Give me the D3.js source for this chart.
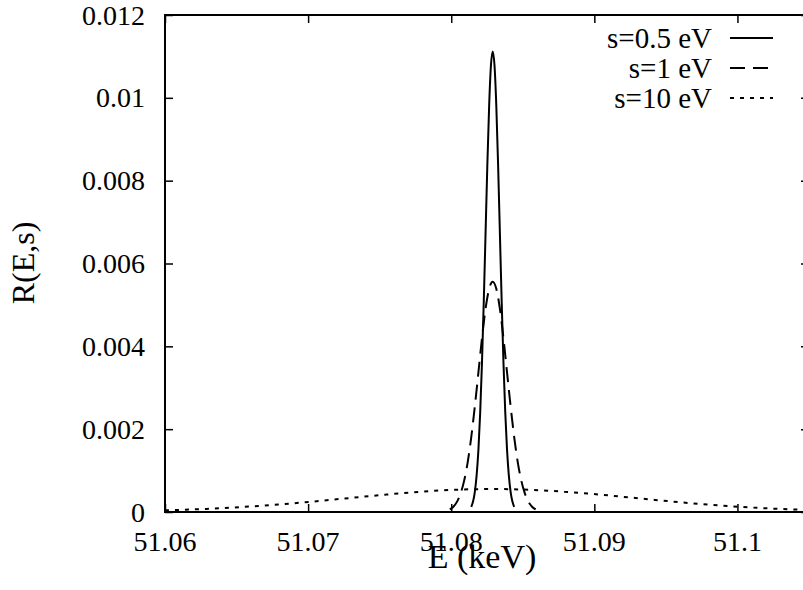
<!DOCTYPE html>
<html>
<head>
<meta charset="utf-8">
<script src="https://cdn.jsdelivr.net/npm/d3@7"></script>
<style>
  html, body { margin: 0; padding: 0; background: #fff; }
  svg { display: block; }
</style>
</head>
<body>
<svg id="chart" width="803" height="590"></svg>
<script>
// ---- Data ----
const xTicks = [51.06, 51.07, 51.08, 51.09, 51.1];
const xTickLabels = ["51.06", "51.07", "51.08", "51.09", "51.1"];
const yTicks = [0, 0.002, 0.004, 0.006, 0.008, 0.01, 0.012];
const yTickLabels = ["0", "0.002", "0.004", "0.006", "0.008", "0.01", "0.012"];
const seriesNames = ["s=0.5 eV", "s=1 eV", "s=10 eV"];

// s = 0.5 eV
const e05 = [51.0814, 51.081525, 51.08165, 51.081775, 51.0819, 51.082025, 51.08215, 51.082275, 51.0824,
  51.082525, 51.08265, 51.082775, 51.0829, 51.083025, 51.08315, 51.083275, 51.0834, 51.083525,
  51.08365, 51.083775, 51.0839, 51.084025, 51.08415, 51.084275, 51.0844];
const r05 = [0.000123, 0.000253, 0.000488, 0.000885, 0.00150, 0.00241, 0.00361, 0.00509, 0.00674,
  0.00839, 0.00981, 0.01078, 0.01112, 0.01078, 0.00981, 0.00839, 0.00674, 0.00509,
  0.00361, 0.00241, 0.00150, 0.000885, 0.000488, 0.000253, 0.000123];

// s = 1 eV
const e1 = [51.0799, 51.08015, 51.0804, 51.08065, 51.0809, 51.08115, 51.0814, 51.08165, 51.0819,
  51.08215, 51.0824, 51.08265, 51.0829, 51.08315, 51.0834, 51.08365, 51.0839, 51.08415,
  51.0844, 51.08465, 51.0849, 51.08515, 51.0854, 51.08565, 51.0859];
const r1 = [0.0000617, 0.000127, 0.000244, 0.000443, 0.000752, 0.00120, 0.00181, 0.00255, 0.00337,
  0.00420, 0.00491, 0.00539, 0.00556, 0.00539, 0.00491, 0.00420, 0.00337, 0.00255,
  0.00181, 0.00120, 0.000752, 0.000443, 0.000244, 0.000127, 0.0000617];

// s = 10 eV
const e10 = [51.0579, 51.0604, 51.0629, 51.0654, 51.0679, 51.0704, 51.0729, 51.0754, 51.0779, 51.0804,
  51.0829, 51.0854, 51.0879, 51.0904, 51.0929, 51.0954, 51.0979, 51.1004, 51.1029, 51.1054];
const r10 = [0.0000244, 0.0000442, 0.0000751, 0.000120, 0.000180, 0.000254, 0.000337, 0.000419, 0.000490, 0.000538,
  0.000555, 0.000538, 0.000490, 0.000419, 0.000337, 0.000254, 0.000180, 0.000120, 0.0000751, 0.0000442];

// ---- Layout ----
const FONT = "'Liberation Serif', 'Nimbus Roman', 'Times New Roman', Tinos, FreeSerif, serif";
const svg = d3.select("#chart");
const L = 165, R = 809, T = 15, B = 512;
const x = d3.scaleLinear().domain([51.06, 51.105]).range([L, R]);
const y = d3.scaleLinear().domain([0, 0.012]).range([B, T]);
const FS = 28;
const tickLen = 8;

function serifText(parent, px, py, size, anchor, str, rotate) {
  return parent.append("text")
    .attr("transform", `translate(${px},${py})` + (rotate ? ` rotate(${rotate})` : ""))
    .attr("text-anchor", anchor)
    .style("font-family", FONT)
    .style("font-size", size + "px")
    .attr("fill", "#000")
    .text(str);
}

const series = [
  { name: seriesNames[0], e: e05, r: r05, dash: null },
  { name: seriesNames[1], e: e1, r: r1, dash: "15,8" },
  { name: seriesNames[2], e: e10, r: r10, dash: "4,6" }
];

svg.append("rect").attr("width", 803).attr("height", 590).attr("fill", "#fff");

// clip
svg.append("defs").append("clipPath").attr("id", "clip")
  .append("rect").attr("x", L).attr("y", T).attr("width", R - L).attr("height", B - T);

// curves
const line = d3.line().x(d => x(d[0])).y(d => y(d[1])).curve(d3.curveMonotoneX);
const gCurves = svg.append("g").attr("clip-path", "url(#clip)");
series.forEach(s => {
  const pts = s.e.map((v, i) => [v, s.r[i]]);
  gCurves.append("path").datum(pts)
    .attr("d", line)
    .attr("fill", "none")
    .attr("stroke", "#000")
    .attr("stroke-width", 2)
    .attr("stroke-dasharray", s.dash);
});

// axes via d3 axis generators (inward ticks, mirrored); labels drawn separately
const gB = svg.append("g").attr("transform", `translate(0,${B})`)
  .call(d3.axisBottom(x).tickValues(xTicks).tickSize(-tickLen).tickFormat(""));
const gL = svg.append("g").attr("transform", `translate(${L},0)`)
  .call(d3.axisLeft(y).tickValues(yTicks).tickSize(-tickLen).tickFormat(""));
const gTp = svg.append("g").attr("transform", `translate(0,${T})`)
  .call(d3.axisTop(x).tickValues(xTicks).tickSize(-tickLen).tickFormat(""));
const gRt = svg.append("g").attr("transform", `translate(${R},0)`)
  .call(d3.axisRight(y).tickValues(yTicks).tickSize(-tickLen).tickFormat(""));

[gB, gL, gTp, gRt].forEach(g => {
  g.select(".domain").remove();
  g.selectAll(".tick line").attr("stroke", "#000").attr("stroke-width", 1.5);
  g.selectAll(".tick text").remove();
});

// tick labels positioned with the scales
const gLabels = svg.append("g");
xTicks.forEach((v, i) => serifText(gLabels, x(v), B + 39, FS, "middle", xTickLabels[i]));
yTicks.forEach((v, i) => serifText(gLabels, L - 20, y(v) + 9.5, FS, "end", yTickLabels[i]));

// frame
svg.append("rect").attr("x", L).attr("y", T).attr("width", R - L).attr("height", B - T)
  .attr("fill", "none").attr("stroke", "#000").attr("stroke-width", 2);

// axis titles
serifText(svg, 482, 568, 34, "middle", "E (keV)");
serifText(svg, 34, 263, 32, "middle", "R(E,s)", -90);

// legend
const legY = [38, 68, 98];
series.forEach((s, i) => {
  serifText(svg, 712, legY[i] + 9.5, 29, "end", s.name);
  svg.append("line").attr("x1", 730).attr("x2", 773).attr("y1", legY[i]).attr("y2", legY[i])
    .attr("stroke", "#000").attr("stroke-width", 2).attr("stroke-dasharray", s.dash);
});
</script>
</body>
</html>
